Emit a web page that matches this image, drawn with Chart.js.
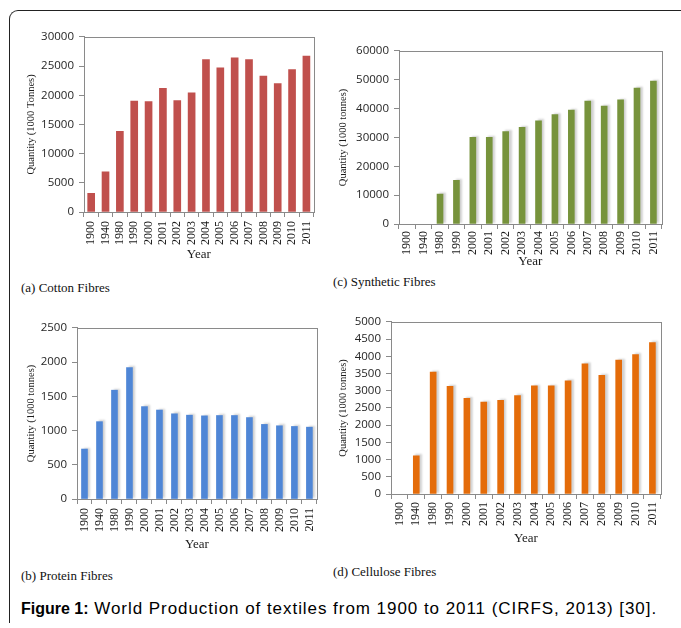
<!DOCTYPE html>
<html>
<head>
<meta charset="utf-8">
<script src="https://cdn.jsdelivr.net/npm/chart.js@4"></script>
<style>
  body { margin:0; width:681px; height:628px; background:#fff; position:relative; overflow:hidden; }
  .frame { position:absolute; left:9px; top:10px; width:700px; height:612px;
           border-top:1.5px solid #222; border-left:1.5px solid #222; border-top-left-radius:9px; }
  canvas { position:absolute; }
  .sub { position:absolute; font:13px "Liberation Serif", serif; line-height:14px; color:#111; white-space:nowrap; }
  .cap { position:absolute; left:21px; top:599px; font:17px "Liberation Sans", Arial, sans-serif; line-height:20px;
         letter-spacing:0.95px; color:#000; white-space:nowrap; }
  .cap b { font-size:16px; letter-spacing:0; }
</style>
</head>
<body>
<div class="frame"></div>

<canvas id="cotton" width="299" height="236" style="left:26px;top:25px"></canvas>
<canvas id="synthetic" width="332" height="229" style="left:338px;top:39px"></canvas>
<canvas id="protein" width="302" height="235" style="left:26px;top:316px"></canvas>
<canvas id="cellulose" width="332" height="235" style="left:338px;top:310px"></canvas>

<div class="sub" style="left:21px;top:281px">(a) Cotton Fibres</div>
<div class="sub" style="left:333px;top:275px">(c) Synthetic Fibres</div>
<div class="sub" style="left:21px;top:569px">(b) Protein Fibres</div>
<div class="sub" style="left:333px;top:565px">(d) Cellulose Fibres</div>

<div class="cap"><b>Figure 1:</b> World Production of textiles from 1900 to 2011 (CIRFS, 2013) [30].</div>

<script>
// Production years and quantities (1000 tonnes)
const years = ['1900','1940','1980','1990','2000','2001','2002','2003','2004','2005','2006','2007','2008','2009','2010','2011'];

const cotton    = [3200, 6900, 13800, 19000, 18900, 21200, 19100, 20400, 26100, 24700, 26400, 26100, 23300, 22000, 24400, 26700];
const synthetic = [0, 0, 10400, 15100, 30000, 30000, 32000, 33500, 35800, 37900, 39500, 42600, 40900, 43000, 47100, 49500];
const protein   = [730, 1130, 1590, 1920, 1350, 1300, 1245, 1225, 1215, 1220, 1220, 1190, 1090, 1070, 1060, 1050];
const cellulose = [0, 1110, 3540, 3130, 2780, 2670, 2720, 2860, 3140, 3140, 3290, 3780, 3450, 3890, 4050, 4400];

// Axis ranges
const cottonAxis    = { max: 30000, step: 5000 };
const syntheticAxis = { max: 60000, step: 10000 };
const proteinAxis   = { max: 2500,  step: 500 };
const celluloseAxis = { max: 5000,  step: 500 };

const AXIS_GREY = '#8a8a8a';

// Box around the plotting area
const plotFrame = {
  id: 'plotFrame',
  afterDraw(chart) {
    const { ctx, chartArea: a } = chart;
    ctx.save();
    ctx.strokeStyle = AXIS_GREY;
    ctx.lineWidth = 1;
    ctx.strokeRect(Math.round(a.left) + 0.5, Math.round(a.top) + 0.5,
                   Math.round(a.right - a.left), Math.round(a.bottom - a.top));
    ctx.restore();
  }
};

// Soft drop shadow behind the bars
const barShadow = {
  id: 'barShadow',
  beforeDatasetsDraw(chart, args, opts) {
    if (!opts.on) return;
    const ctx = chart.ctx;
    ctx.save();
    ctx.shadowColor = 'rgba(0,0,0,0.18)';
    ctx.shadowBlur = 2;
    ctx.shadowOffsetX = 2.5;
    ctx.shadowOffsetY = -1;
  },
  afterDatasetsDraw(chart, args, opts) {
    if (!opts.on) return;
    chart.ctx.restore();
  }
};

function panel(id, values, color, axis, cfg) {
  new Chart(document.getElementById(id), {
    type: 'bar',
    data: {
      labels: years,
      // years with no production get no bar at all
      datasets: [{ data: values.map(v => (v === 0 ? null : v)), backgroundColor: color, borderWidth: 0,
                   barThickness: cfg.bar, categoryPercentage: 1, barPercentage: 1 }]
    },
    plugins: [plotFrame, barShadow],
    options: {
      responsive: false,
      devicePixelRatio: 1,
      animation: false,
      layout: { padding: { top: 10, right: 6, left: 0, bottom: 0 } },
      plugins: {
        legend: { display: false },
        tooltip: { enabled: false },
        barShadow: { on: cfg.shadow }
      },
      scales: {
        x: {
          grid: { display: true, drawOnChartArea: false, color: AXIS_GREY, tickLength: 5, offset: true },
          border: { color: AXIS_GREY },
          ticks: {
            autoSkip: false, minRotation: 90, maxRotation: 90,
            padding: cfg.xPad, color: '#1a1a1a',
            font: { family: '"Liberation Serif", serif', size: 12 }
          },
          title: {
            display: true, text: 'Year', color: '#1a1a1a',
            font: { family: '"Liberation Serif", serif', size: 13, lineHeight: 1 },
            padding: 0
          },
          afterFit: s => { s.height = cfg.xH; }
        },
        y: {
          min: 0, max: axis.max,
          grid: { display: true, drawOnChartArea: false, color: AXIS_GREY, tickLength: 5 },
          border: { color: AXIS_GREY },
          ticks: {
            stepSize: axis.step, padding: 5, color: '#262626',
            font: { family: '"Open Sans", sans-serif', size: 11.5 },
            callback: v => String(v)
          },
          title: {
            display: true, text: cfg.yTitle, color: '#1a1a1a',
            font: { family: '"Liberation Serif", serif', size: 10.5, lineHeight: 1 },
            padding: 0
          },
          afterFit: s => { s.width = cfg.yW; }
        }
      }
    }
  });
}

panel('cotton', cotton, '#c0504d', cottonAxis,
      { bar: 7, shadow: false, xPad: 4, xH: 49, yW: 58, yTitle: 'Quantity (1000 Tonnes)' });
panel('synthetic', synthetic, '#77933c', syntheticAxis,
      { bar: 6, shadow: true, xPad: 2, xH: 44, yW: 61, yTitle: 'Quantity (1000 tonnes)' });
panel('protein', protein, '#4f86d6', proteinAxis,
      { bar: 6, shadow: true, xPad: 4, xH: 52, yW: 51, yTitle: 'Quantity (1000 tonnes)' });
panel('cellulose', cellulose, '#e46c0a', celluloseAxis,
      { bar: 6, shadow: true, xPad: 3, xH: 51, yW: 53, yTitle: 'Quantity (1000 tonnes)' });
</script>
</body>
</html>
